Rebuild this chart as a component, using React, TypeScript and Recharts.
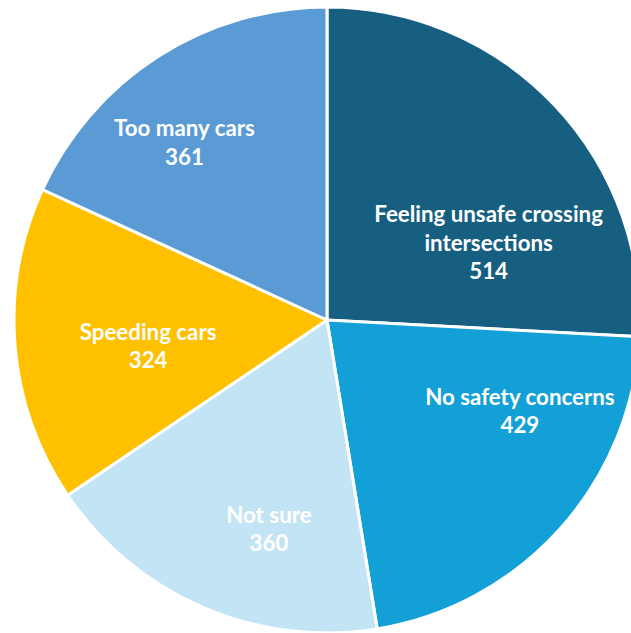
import { PieChart, Pie, Cell } from "recharts";

const categories = [
  "Feeling unsafe crossing intersections",
  "No safety concerns",
  "Not sure",
  "Speeding cars",
  "Too many cars",
];
const counts = [514, 429, 360, 324, 361];
const colors = ["#175f80", "#12a0d7", "#c3e4f4", "#ffc000", "#5b9bd5"];

// where each label sits: angle clockwise from 12 o'clock, and fraction of the radius
const labelPlacement = [
  { angle: 64.1, r: 0.574 },
  { angle: 115, r: 0.68 },
  { angle: 195.6, r: 0.69 },
  { angle: 262, r: 0.577 },
  { angle: 321.4, r: 0.73 },
];

const data = categories.map((name, i) => ({ name, value: counts[i] }));

function wrap(text: string, max: number) {
  const lines: string[] = [];
  let cur = "";
  for (const w of text.split(" ")) {
    if (cur && (cur + " " + w).length > max) {
      lines.push(cur);
      cur = w;
    } else {
      cur = cur ? cur + " " + w : w;
    }
  }
  if (cur) lines.push(cur);
  return lines;
}

const renderLabel = (props: any) => {
  const { cx, cy, outerRadius, index, name, value } = props;
  const p = labelPlacement[index];
  const rad = (p.angle * Math.PI) / 180;
  const x = cx + Math.sin(rad) * outerRadius * p.r;
  const y = cy - Math.cos(rad) * outerRadius * p.r;
  const lines = [...wrap(name, 24), String(value)];
  const lh = 28.5;
  const top = y - ((lines.length - 1) * lh) / 2;
  return (
    <text
      x={x}
      y={top}
      textAnchor="middle"
      dominantBaseline="central"
      fill="#ffffff"
      fontWeight={700}
      fontSize={22.3}
      fontFamily="Lato, 'Open Sans', sans-serif"
    >
      {lines.map((l, i) => (
        <tspan key={i} x={x} y={top + i * lh}>
          {l}
        </tspan>
      ))}
    </text>
  );
};

export default function App() {
  return (
    <div style={{ position: "absolute", left: 0, top: 0, width: 631, height: 633, background: "#fff" }}>
      <PieChart width={631} height={633} margin={{ top: 0, right: 0, bottom: 0, left: 0 }}>
        <Pie
          data={data}
          dataKey="value"
          nameKey="name"
          cx={327}
          cy={320}
          outerRadius={313}
          startAngle={90}
          endAngle={-270}
          stroke="#ffffff"
          strokeWidth={3}
          label={renderLabel}
          labelLine={false}
          isAnimationActive={false}
        >
          {data.map((d, i) => (
            <Cell key={d.name} fill={colors[i]} />
          ))}
        </Pie>
      </PieChart>
    </div>
  );
}
